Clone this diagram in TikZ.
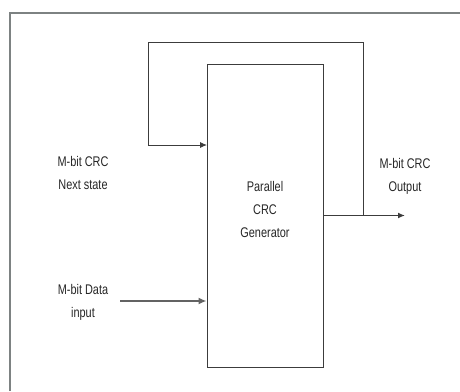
\documentclass[tikz,border=0pt]{standalone}
\usepackage{fontspec}
\setmainfont{Liberation Sans}
\newfontfamily\narrowsans[FakeStretch=0.78]{Liberation Sans}
\usetikzlibrary{arrows.meta, positioning}
\usepackage{xcolor}
\definecolor{framegray}{RGB}{125,130,130}
\definecolor{linegray}{RGB}{60,60,60}

\begin{document}
\begin{tikzpicture}[x=1pt, y=-1pt,
  block/.style={rectangle, draw=linegray, line width=0.9pt, minimum width=116pt, minimum height=303pt, inner sep=0pt},
  sigtext/.style={align=center, font=\narrowsans\fontsize{14}{23}\selectfont, text=black!85},
  arrow/.style={-{Latex[length=7pt, width=6pt]}, color=linegray, line width=0.9pt},
]
  \useasboundingbox (0,0) rectangle (460,391);
  \draw[framegray, line width=1.5pt] (10,391) -- (10,13) -- (460,13);

  \node[block] (gen) at (265,215.5) {};
  \node[sigtext] (gentext) at (265,209) {Parallel\\CRC\\Generator};

  \node[sigtext] (nextlbl) at (83,173) {M-bit CRC\\Next state};
  \node[sigtext] (datalbl) at (83,302) {M-bit Data\\input};
  \node[sigtext] (outlbl) at (405,176) {M-bit CRC\\Output};

  \coordinate (tap) at (363,215.5);
  \coordinate (loopr) at (363,42);
  \coordinate (loopl) at (148,42);
  \coordinate (fbin) at (207,145);
  \coordinate (outend) at (405,215.5);
  \coordinate (datastart) at (120,301);

  \draw[arrow] (tap) -- (loopr) -- (loopl) |- (fbin);
  \draw[arrow, line width=1.4pt] (gen.east) -- (outend);
  \draw[arrow, line width=2.6pt, color=linegray!80, -{Latex[length=8pt, width=7pt]}] (datastart) -- (gen.west |- datastart);
\end{tikzpicture}
\end{document}
